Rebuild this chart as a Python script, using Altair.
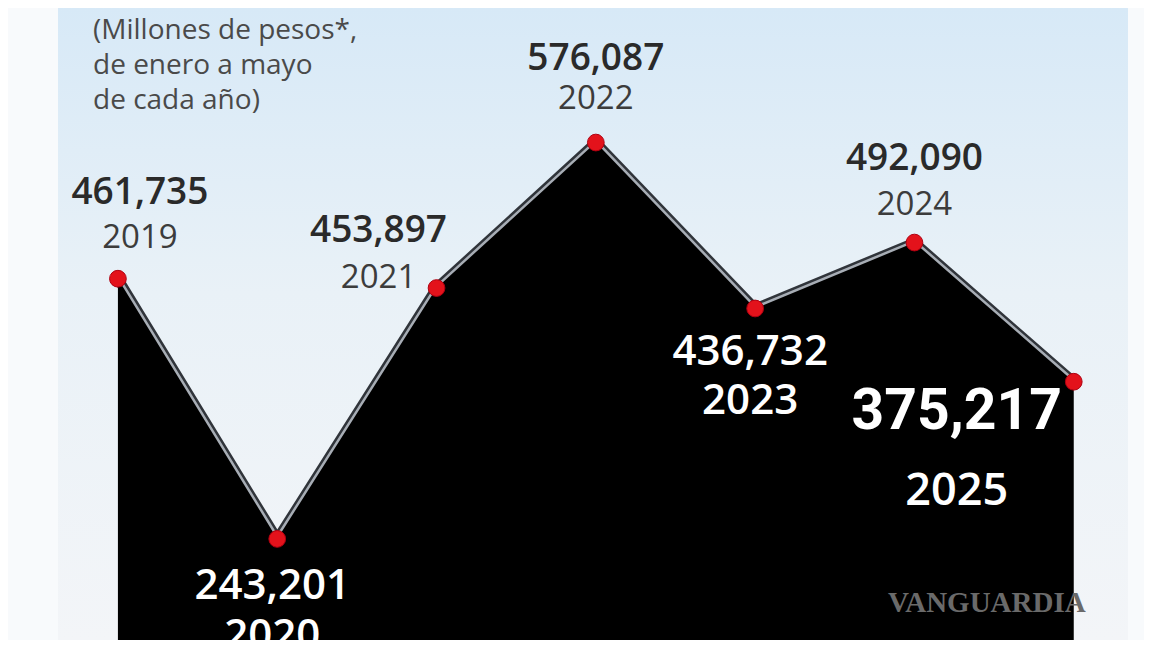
import altair as alt
import pandas as pd

# ---- data ----
years = [2019, 2020, 2021, 2022, 2023, 2024, 2025]
values = [461735, 243201, 453897, 576087, 436732, 492090, 375217]
subtitle_lines = ["(Millones de pesos*,", "de enero a mayo", "de cada año)"]
watermark = "VANGUARDIA"

df = pd.DataFrame({"year": years, "value": values})
df["year_label"] = df["year"].astype(str)

# ---- layout ----
W, H = 1136, 632
x_scale = alt.Scale(domain=[2018.310, 2025.441])
y_scale = alt.Scale(domain=[158308, 689088], zero=False)
X = alt.X("year:Q", scale=x_scale, axis=None)
Y = alt.Y("value:Q", scale=y_scale, axis=None)

# per-label offsets (pixels) relative to each point
LAYOUT = {
    2019: dict(dx=22, vdy=-86, ydy=-41, style="dark"),
    2020: dict(dx=-5, vdy=47, ydy=97, style="light"),
    2021: dict(dx=-58, vdy=-57, ydy=-10, style="dark"),
    2022: dict(dx=0, vdy=-84, ydy=-44, style="dark"),
    2023: dict(dx=-5, vdy=44, ydy=93, style="light"),
    2024: dict(dx=0, vdy=-84, ydy=-38, style="dark"),
    2025: dict(dx=-117, vdy=30, ydy=109, style="big"),
}
STYLES = {
    "dark": dict(vfont="Open Sans", vsize=37, vweight=600, vcolor="#2a2a2a",
                 yfont="Open Sans", ysize=33, yweight=400, ycolor="#3c3c3c"),
    "light": dict(vfont="Open Sans", vsize=42, vweight=600, vcolor="#ffffff",
                  yfont="Open Sans", ysize=42, yweight=600, ycolor="#ffffff"),
    "big": dict(vfont="Roboto", vsize=57, vweight=700, vcolor="#ffffff",
                yfont="Open Sans", ysize=45, yweight=600, ycolor="#ffffff"),
}

base = alt.Chart(df)

panel = alt.Chart(alt.Data(values=[{}])).mark_rect(
    fill=alt.Gradient(
        gradient="linear",
        stops=[
            alt.GradientStop(color="#d7e9f7", offset=0),
            alt.GradientStop(color="#e9f1f7", offset=0.45),
            alt.GradientStop(color="#f3f5f8", offset=1),
        ],
        x1=0, x2=0, y1=0, y2=1,
    )
).encode(x=alt.value(50), x2=alt.value(1120), y=alt.value(0), y2=alt.value(H))

edge_dark = base.mark_line(stroke="#30343a", strokeWidth=10, strokeJoin="round").encode(x=X, y=Y)
edge_light = base.mark_line(stroke="#a7adb5", strokeWidth=5, strokeJoin="round").encode(x=X, y=Y)
area = base.mark_area(color="#000000", opacity=1).encode(x=X, y=Y, y2=alt.value(H))
points = base.mark_circle(size=280, color="#e3121b", opacity=1,
                          stroke="#b00010", strokeWidth=1).encode(x=X, y=Y)

label_layers = []
for yr, lay in LAYOUT.items():
    st = STYLES[lay["style"]]
    sub = base.transform_filter(alt.datum.year == yr)
    label_layers.append(
        sub.mark_text(dx=lay["dx"], dy=lay["vdy"], align="center", baseline="middle",
                      font=st["vfont"], fontSize=st["vsize"], fontWeight=st["vweight"],
                      color=st["vcolor"]).encode(x=X, y=Y, text=alt.Text("value:Q", format=","))
    )
    label_layers.append(
        sub.mark_text(dx=lay["dx"], dy=lay["ydy"], align="center", baseline="middle",
                      font=st["yfont"], fontSize=st["ysize"], fontWeight=st["yweight"],
                      color=st["ycolor"]).encode(x=X, y=Y, text="year_label:N")
    )

subtitle = alt.Chart(alt.Data(values=[{}])).mark_text(
    align="left", baseline="top", font="Open Sans", fontSize=28, color="#4a4a4a",
    lineHeight=35,
).encode(x=alt.value(85), y=alt.value(9), text=alt.value(subtitle_lines))

wm = alt.Chart(alt.Data(values=[{}])).mark_text(
    align="left", baseline="middle", font="Liberation Serif, DejaVu Serif, serif",
    fontSize=29, fontWeight=700, color="#6a6a6a",
).encode(x=alt.value(880), y=alt.value(595), text=alt.value(watermark))

chart = alt.layer(
    panel, edge_dark, edge_light, area, points, *label_layers, subtitle, wm
).properties(
    width=W, height=H, padding=0,
    autosize=alt.AutoSizeParams(type="none"),
    background="#f8fafc",
).configure_view(stroke=None)

chart.save("out.html", embed_options={"renderer": "svg", "actions": False})
